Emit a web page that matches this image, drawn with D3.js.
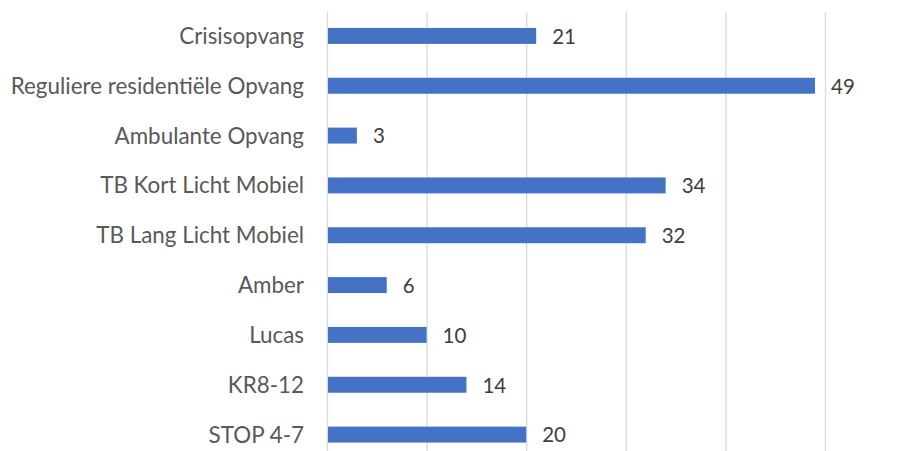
<!DOCTYPE html>
<html><head><meta charset="utf-8">
<script src="https://cdn.jsdelivr.net/npm/d3@7"></script>
<style>body{margin:0;background:#fff}svg{display:block}</style>
</head><body>
<script>
const categories = ["Crisisopvang","Reguliere residentiële Opvang","Ambulante Opvang","TB Kort Licht Mobiel","TB Lang Licht Mobiel","Amber","Lucas","KR8-12","STOP 4-7"];
const values = [21,49,3,34,32,6,10,14,20];
const xTicks = [0,10,20,30,40,50];

const W=910,H=451;
const svg=d3.select("body").append("svg").attr("width",W).attr("height",H);
const x=d3.scaleLinear().domain([0,50]).range([327,825]);
const y=d3.scaleBand().domain(categories).range([11,459.5]).paddingInner(0.68).paddingOuter(0.34);
const font="Lato, 'Open Sans', sans-serif";

svg.append("g").selectAll("line").data(xTicks).join("line")
  .attr("x1",d=>x(d)+0.5).attr("x2",d=>x(d)+0.5).attr("y1",12).attr("y2",H)
  .attr("stroke","#d9d9d9").attr("stroke-width",1.3);

svg.append("g").selectAll("rect").data(values).join("rect")
  .attr("x",x(0)+1).attr("y",(d,i)=>y(categories[i]))
  .attr("width",d=>x(d)-x(0)-1).attr("height",y.bandwidth())
  .attr("fill","#4472C4");

svg.append("g").selectAll("text").data(values).join("text")
  .attr("x",d=>x(d)+16).attr("y",(d,i)=>y(categories[i])+y.bandwidth()/2)
  .attr("dy","0.38em").attr("font-family",font).attr("font-size",20.5)
  .attr("fill","#404040").text(d=>d);

svg.append("g").selectAll("text").data(categories).join("text")
  .attr("x",304).attr("y",d=>y(d)+y.bandwidth()/2).attr("dy","0.36em")
  .attr("text-anchor","end").attr("font-family",font).attr("font-size",22.4)
  .attr("fill","#595959").text(d=>d);
</script>
</body></html>
